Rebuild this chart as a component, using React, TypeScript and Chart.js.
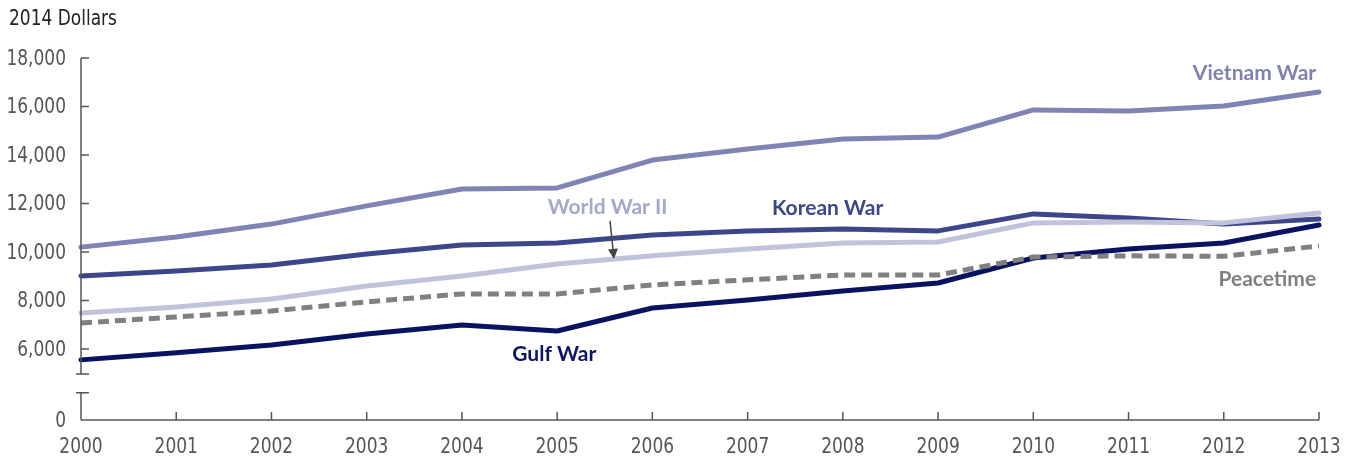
import React, { useEffect, useRef } from "react";
import { Chart, registerables } from "chart.js";

Chart.register(...registerables);

const years = ["2000","2001","2002","2003","2004","2005","2006","2007","2008","2009","2010","2011","2012","2013"];
const vietnamWar = [10200, 10620, 11150, 11900, 12600, 12640, 13790, 14250, 14660, 14740, 15860, 15810, 16020, 16600];
const koreanWar = [9010, 9220, 9460, 9920, 10290, 10370, 10700, 10870, 10950, 10870, 11570, 11400, 11150, 11360];
const worldWarII = [7480, 7730, 8060, 8600, 9010, 9500, 9840, 10120, 10370, 10410, 11200, 11240, 11200, 11610];
const peacetime = [7070, 7320, 7570, 7940, 8270, 8270, 8640, 8850, 9050, 9050, 9790, 9840, 9820, 10250];
const gulfWar = [5550, 5840, 6160, 6620, 6990, 6740, 7690, 8020, 8390, 8720, 9750, 10120, 10370, 11110];
const yTickValues = [6000, 8000, 10000, 12000, 14000, 16000, 18000];
const yTickLabels = ["6,000", "8,000", "10,000", "12,000", "14,000", "16,000", "18,000"];
const yZeroLabel = "0";
const yAxisMin = 3070; // position labelled "0" on the broken axis
const yAxisMax = 18000;
const breakTop = 4970;
const breakBottom = 4190;
const axisTitle = "2014 Dollars";

const TICK_FONT = "'Liberation Sans Narrow', 'DejaVu Sans Condensed', sans-serif";
const LABEL_FONT = "Lato, 'Open Sans', sans-serif";
const NARROW = 0.86;

const seriesLabels = [
  { text: "Vietnam War", x: 12.97, y: 17380, color: "#7d82b3", align: "right" },
  { text: "World War II", x: 5.53, y: 11860, color: "#a3a8cc", align: "center" },
  { text: "Korean War", x: 7.84, y: 11810, color: "#3c4689", align: "center" },
  { text: "Peacetime", x: 12.97, y: 8890, color: "#808080", align: "right" },
  { text: "Gulf War", x: 4.97, y: 5790, color: "#0c1463", align: "center" },
];
const arrow = { x1: 5.555, y1: 11280, x2: 5.597, y2: 9710 };

function narrowText(ctx: CanvasRenderingContext2D, text: string, x: number, y: number, align: CanvasTextAlign) {
  ctx.save();
  ctx.translate(x, y);
  ctx.scale(NARROW, 1);
  ctx.textAlign = align;
  ctx.textBaseline = "middle";
  ctx.fillText(text, 0, 0);
  ctx.restore();
}

export default function App() {
  const ref = useRef<HTMLCanvasElement | null>(null);
  useEffect(() => {
    if (!ref.current) return;
    const decorations = {
      id: "decorations",
      afterDraw(chart: any) {
        const ctx = chart.ctx;
        const xs = chart.scales.x;
        const ys = chart.scales.y;
        const step = xs.getPixelForValue(1) - xs.getPixelForValue(0);
        const px = (v: number) => xs.getPixelForValue(0) + v * step;
        const left = chart.chartArea.left;
        const bottom = ys.getPixelForValue(yAxisMin);
        ctx.save();
        ctx.strokeStyle = "#555";
        ctx.lineWidth = 1.5;
        const top = ys.getPixelForValue(yAxisMax);
        const bT = ys.getPixelForValue(breakTop);
        const bB = ys.getPixelForValue(breakBottom);
        ctx.beginPath();
        ctx.moveTo(left, top);
        ctx.lineTo(left, bT);
        ctx.moveTo(left, bB);
        ctx.lineTo(left, bottom);
        ctx.moveTo(left - 5, bT);
        ctx.lineTo(left + 8, bT);
        ctx.moveTo(left - 5, bB);
        ctx.lineTo(left + 8, bB);
        for (const v of yTickValues) {
          const y = ys.getPixelForValue(v);
          ctx.moveTo(left, y);
          ctx.lineTo(left + 8, y);
        }
        ctx.moveTo(left, bottom);
        ctx.lineTo(chart.chartArea.right, bottom);
        for (let i = 0; i < years.length; i++) {
          const x = xs.getPixelForValue(i);
          ctx.moveTo(x, bottom);
          ctx.lineTo(x, bottom - 8);
        }
        ctx.stroke();

        ctx.fillStyle = "#555";
        ctx.font = `22px ${TICK_FONT}`;
        yTickValues.forEach((v, i) => narrowText(ctx, yTickLabels[i], left - 15, ys.getPixelForValue(v) + 1, "right"));
        narrowText(ctx, yZeroLabel, left - 15, bottom + 1, "right");
        years.forEach((yr, i) => narrowText(ctx, yr, xs.getPixelForValue(i), bottom + 27, "center"));

        ctx.fillStyle = "#222";
        ctx.font = `22px ${TICK_FONT}`;
        narrowText(ctx, axisTitle, 9, 19, "left");

        ctx.font = `bold 21px ${LABEL_FONT}`;
        ctx.textBaseline = "middle";
        for (const l of seriesLabels) {
          ctx.fillStyle = l.color;
          ctx.textAlign = l.align as CanvasTextAlign;
          ctx.fillText(l.text, px(l.x), ys.getPixelForValue(l.y));
        }

        const ax1 = px(arrow.x1), ay1 = ys.getPixelForValue(arrow.y1);
        const ax2 = px(arrow.x2), ay2 = ys.getPixelForValue(arrow.y2);
        const ang = Math.atan2(ay2 - ay1, ax2 - ax1);
        ctx.strokeStyle = "#444";
        ctx.fillStyle = "#444";
        ctx.lineWidth = 1.5;
        ctx.beginPath();
        ctx.moveTo(ax1, ay1);
        ctx.lineTo(ax2 - 8 * Math.cos(ang), ay2 - 8 * Math.sin(ang));
        ctx.stroke();
        ctx.beginPath();
        ctx.moveTo(ax2, ay2);
        ctx.lineTo(ax2 - 10 * Math.cos(ang) + 5 * Math.sin(ang), ay2 - 10 * Math.sin(ang) - 5 * Math.cos(ang));
        ctx.lineTo(ax2 - 10 * Math.cos(ang) - 5 * Math.sin(ang), ay2 - 10 * Math.sin(ang) + 5 * Math.cos(ang));
        ctx.closePath();
        ctx.fill();
        ctx.restore();
      },
    };

    const common = { pointRadius: 0, borderWidth: 5, fill: false, tension: 0, borderCapStyle: "round" as const, borderJoinStyle: "round" as const, clip: false as const };
    const chart = new Chart(ref.current, {
      type: "line",
      data: {
        labels: years,
        datasets: [
          { ...common, label: "Peacetime", data: peacetime, borderColor: "#808080", borderDash: [11, 6], borderCapStyle: "butt" },
          { ...common, label: "World War II", data: worldWarII, borderColor: "#c1c3dd" },
          { ...common, label: "Korean War", data: koreanWar, borderColor: "#3c4689" },
          { ...common, label: "Vietnam War", data: vietnamWar, borderColor: "#7f84b4" },
          { ...common, label: "Gulf War", data: gulfWar, borderColor: "#0a1262" },
        ] as any,
      },
      options: {
        animation: false,
        responsive: true,
        maintainAspectRatio: false,
        layout: { padding: { top: 58, right: 32, left: 0, bottom: 0 } },
        plugins: { legend: { display: false }, tooltip: { enabled: false }, title: { display: false } },
        scales: {
          x: {
            type: "category",
            offset: false,
            grid: { display: false, drawTicks: false },
            border: { display: false },
            ticks: { display: false },
            afterFit: (s: any) => { s.height = 39; },
          },
          y: {
            type: "linear",
            min: yAxisMin,
            max: yAxisMax,
            grid: { display: false, drawTicks: false },
            border: { display: false },
            ticks: { display: false },
            afterBuildTicks: (s: any) => {
              s.ticks = [yAxisMin, ...yTickValues].map((v) => ({ value: v }));
            },
            afterFit: (s: any) => { s.width = 81; },
          },
        },
      },
      plugins: [decorations],
    });
    return () => chart.destroy();
  }, []);
  return (
    <div style={{ position: "fixed", left: 0, top: 0, width: 1351, height: 459, background: "#fff" }}>
      <canvas ref={ref} />
    </div>
  );
}
